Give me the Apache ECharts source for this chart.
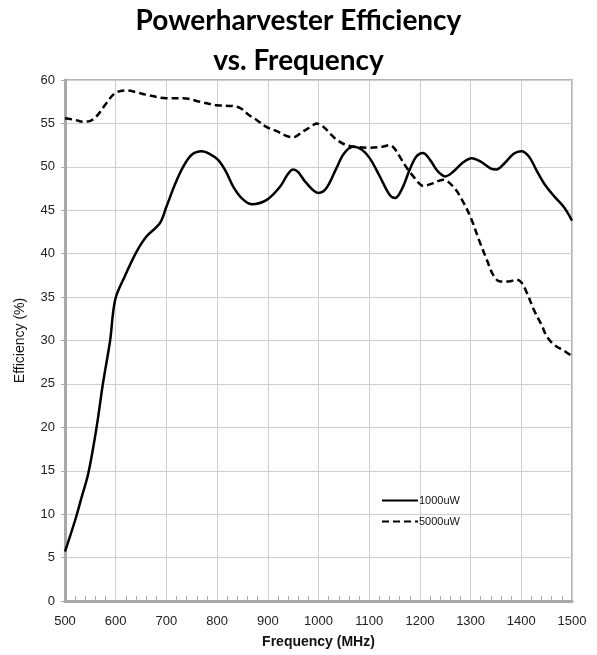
<!DOCTYPE html>
<html>
<head>
<meta charset="utf-8">
<script src="https://cdn.jsdelivr.net/npm/echarts@6/dist/echarts.min.js"></script>
<style>
  html, body { margin: 0; padding: 0; background: #fff; }
  #chart { width: 597px; height: 655px; }
</style>
</head>
<body>
<div id="chart"></div>
<script>
// 1000uW curve
var freq1 = [500, 520, 533, 546, 562, 575, 589, 599, 618, 641, 661, 687, 700, 717, 733, 750, 770, 785, 802, 817, 832, 850, 868, 898, 924, 940, 950, 960, 975, 1000, 1015, 1035, 1050, 1068, 1085, 1101, 1120, 1140, 1151, 1165, 1180, 1193, 1206, 1220, 1235, 1250, 1265, 1285, 1302, 1320, 1340, 1351, 1365, 1385, 1400, 1415, 1430, 1447, 1465, 1485, 1500];
var eff1 = [5.7, 9.3, 12.0, 14.7, 19.9, 25.1, 30.0, 34.7, 37.4, 40.2, 42.0, 43.5, 45.4, 48.0, 50.0, 51.4, 51.8, 51.5, 50.8, 49.5, 47.7, 46.3, 45.7, 46.2, 47.7, 49.2, 49.7, 49.4, 48.2, 47.0, 47.5, 49.8, 51.5, 52.3, 52.0, 51.0, 49.0, 46.8, 46.4, 47.5, 49.7, 51.2, 51.6, 50.8, 49.5, 48.9, 49.4, 50.5, 51.0, 50.6, 49.8, 49.7, 50.3, 51.5, 51.8, 51.2, 49.6, 47.9, 46.6, 45.3, 43.8];

// 5000uW curve
var freq2 = [500, 520, 536, 550, 562, 580, 599, 620, 640, 661, 700, 733, 766, 799, 830, 845, 862, 878, 897, 918, 935, 950, 970, 985, 996, 1010, 1025, 1036, 1055, 1075, 1101, 1125, 1141, 1150, 1160, 1175, 1187, 1200, 1207, 1225, 1246, 1266, 1285, 1302, 1317, 1332, 1345, 1358, 1375, 1391, 1400, 1411, 1425, 1440, 1450, 1465, 1485, 1500];
var eff2 = [55.6, 55.4, 55.2, 55.3, 55.8, 57.2, 58.5, 58.8, 58.6, 58.3, 57.9, 57.9, 57.5, 57.1, 57.0, 56.8, 56.0, 55.4, 54.6, 54.1, 53.6, 53.4, 54.1, 54.6, 55.0, 54.6, 53.7, 53.1, 52.5, 52.3, 52.2, 52.3, 52.5, 52.1, 51.2, 49.8, 48.9, 48.0, 47.8, 48.1, 48.5, 47.7, 46.0, 43.9, 41.5, 39.3, 37.5, 36.8, 36.8, 37.0, 36.7, 35.5, 33.5, 31.8, 30.5, 29.5, 28.8, 28.2];

var seriesNames = ['1000uW', '5000uW'];

function pairs(xs, ys) {
  var out = [];
  for (var i = 0; i < xs.length; i++) out.push([xs[i], ys[i]]);
  return out;
}

var chart = echarts.init(document.getElementById('chart'));

var option = {
  backgroundColor: '#ffffff',
  animation: false,
  title: {
    text: 'Powerharvester Efficiency\nvs. Frequency',
    left: 'center',
    top: -4,
    textStyle: {
      fontFamily: 'Lato',
      fontWeight: 'bold',
      fontSize: 28,
      lineHeight: 40,
      color: '#000'
    }
  },
  legend: {
    orient: 'vertical',
    left: 376,
    top: 490,
    itemWidth: 36,
    itemHeight: 10,
    itemGap: 10,
    data: seriesNames,
    itemStyle: { opacity: 0 },
    textStyle: { fontFamily: 'Liberation Sans', fontSize: 11, color: '#111', padding: [0, 0, 0, -4] }
  },
  grid: {
    left: 65,
    right: 25,
    top: 80,
    bottom: 54,
    show: true,
    borderColor: '#b4b4b4',
    borderWidth: 2
  },
  xAxis: {
    type: 'value',
    min: 500,
    max: 1500,
    interval: 100,
    name: 'Frequency (MHz)',
    nameLocation: 'middle',
    nameGap: 34,
    nameTextStyle: { fontFamily: 'Liberation Sans', fontWeight: 'bold', fontSize: 14, color: '#111' },
    axisLine: { show: true, onZero: false, lineStyle: { color: '#a8a8a8', width: 3 } },
    axisTick: { show: false },
    minorTick: { show: true, splitNumber: 5, length: -5, lineStyle: { color: '#a8a8a8', width: 1 } },
    axisLabel: { fontFamily: 'Liberation Sans', fontSize: 13, color: '#222', margin: 14, formatter: function (v) { return String(v); } },
    splitLine: { show: true, lineStyle: { color: '#cfcfcf', width: 1 } }
  },
  yAxis: {
    type: 'value',
    min: 0,
    max: 60,
    interval: 5,
    name: 'Efficiency (%)',
    nameLocation: 'middle',
    nameGap: 38,
    nameTextStyle: { fontFamily: 'Liberation Sans', fontSize: 14, color: '#111' },
    axisLine: { show: true, lineStyle: { color: '#a8a8a8', width: 3 } },
    axisTick: { show: true, length: 4, lineStyle: { color: '#a8a8a8' } },
    axisLabel: { fontFamily: 'Liberation Sans', fontSize: 13, color: '#222', margin: 10 },
    splitLine: { show: true, lineStyle: { color: '#cfcfcf', width: 1 } }
  },
  series: [
    {
      name: seriesNames[0],
      type: 'line',
      data: pairs(freq1, eff1),
      smooth: 0.35,
      symbol: 'none',
      lineStyle: { color: '#000', width: 2.5, type: 'solid' },
      itemStyle: { color: '#000' }
    },
    {
      name: seriesNames[1],
      type: 'line',
      data: pairs(freq2, eff2),
      smooth: 0.35,
      symbol: 'none',
      lineStyle: { color: '#000', width: 2.5, type: [7, 4] },
      itemStyle: { color: '#000' }
    }
  ]
};

chart.setOption(option);
</script>
</body>
</html>
